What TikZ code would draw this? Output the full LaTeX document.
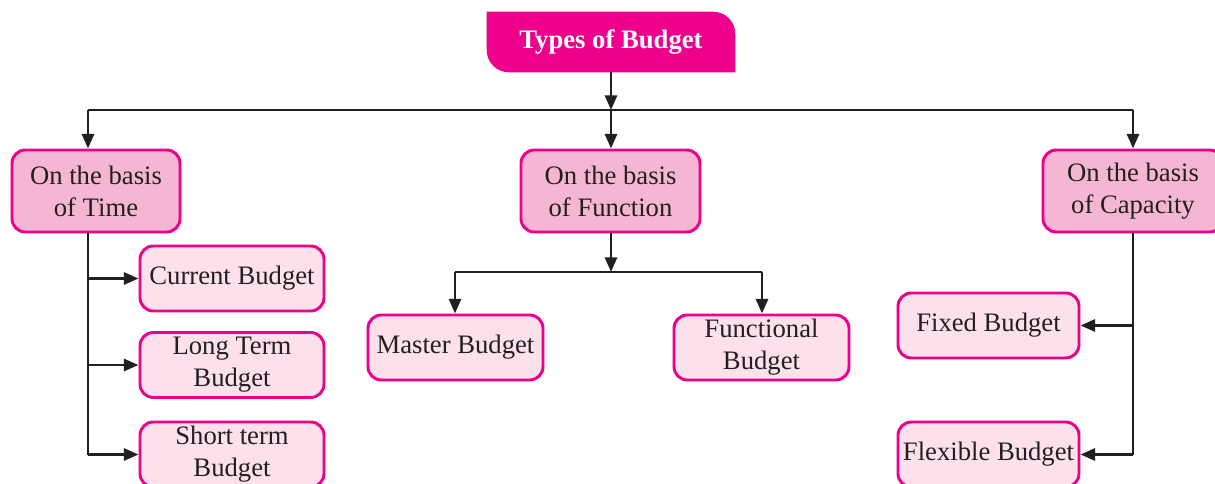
\documentclass[tikz,border=0pt]{standalone}
\usepackage{fontspec}
\setmainfont{Liberation Serif}
\usetikzlibrary{arrows.meta}
\definecolor{mag}{HTML}{EC008C}
\definecolor{midpink}{HTML}{F5B6D3}
\definecolor{lightpink}{HTML}{FCE0EC}
\definecolor{ink}{HTML}{231F20}
\tikzset{
  box/.style={draw=mag, line width=2.2pt, rounded corners=10pt, align=center,
    text=ink, font=\fontsize{20}{24}\selectfont, inner sep=0pt},
  mainbox/.style={box, fill=midpink, minimum height=61.5pt},
  subbox/.style={box, fill=lightpink, minimum height=48.75pt},
  titlenode/.style={text=white, font=\fontsize{20}{24}\selectfont\bfseries,
    minimum width=186pt, minimum height=45pt, inner sep=0pt},
  conn/.style={draw=ink, line width=2.2pt},
  arr/.style={conn, -{Triangle[length=11pt,width=9pt]}},
}
\begin{document}
\begin{tikzpicture}[x=0.75pt,y=0.75pt]
\useasboundingbox (0,0) rectangle (1215,483);
\clip (0,0) rectangle (1215,483);
% title
\node[titlenode] (title) at (611,441) {};
\fill[mag] (title.north west) -- ([xshift=-16.5pt]title.north east)
  arc[start angle=90,end angle=0,radius=22] -- (title.south east)
  -- ([xshift=16.5pt]title.south west) arc[start angle=270,end angle=180,radius=22] -- cycle;
\node[titlenode] at (title.center) {Types of Budget};
% level 1
\node[mainbox, minimum width=126pt] (time) at (96,292) {On the basis\\of Time};
\node[mainbox, minimum width=134.25pt] (func) at (610.5,292) {On the basis\\of Function};
\node[mainbox, minimum width=135pt] (cap) at (1133,292) {On the basis\\of Capacity};
% level 2
\node[subbox, minimum width=138pt] (cur) at (232,204.5) {Current Budget};
\node[subbox, minimum width=138pt] (long) at (232,118) {Long Term\\Budget};
\node[subbox, minimum width=138pt] (short) at (232,28.5) {Short term\\Budget};
\node[subbox, minimum width=131.25pt] (master) at (455.5,135.5) {Master Budget};
\node[subbox, minimum width=131.25pt] (fnl) at (761.5,135.5) {Functional\\Budget};
\node[subbox, minimum width=135.75pt] (fixed) at (988.5,157.5) {Fixed Budget};
\node[subbox, minimum width=135.75pt] (flex) at (988.5,28.5) {Flexible Budget};
% junction coordinates
\coordinate (top) at (611,373);
\coordinate (fj) at (611,211);
% title to level 1
\draw[arr] (title.south) -- (top);
\draw[conn] (88,373) -- (1133,373);
\draw[arr] (88,373) -- (time.north -| 88,0);
\draw[arr] (top) -- (func.north -| top);
\draw[arr] (1133,373) -- (cap.north);
% time branch
\draw[conn] (time.south -| 88,0) -- (88,28.5);
\draw[arr] (88,0 |- cur.west) -- (cur.west);
\draw[arr] (88,0 |- long.west) -- (long.west);
\draw[arr] (88,0 |- short.west) -- (short.west);
% function branch
\draw[arr] (func.south -| fj) -- (fj);
\draw[conn] (455,211) -- (762,211);
\draw[arr] (455,211) -- (master.north -| 455,0);
\draw[arr] (762,211) -- (fnl.north -| 762,0);
% capacity branch
\draw[conn] (cap.south) -- (1133,28.5);
\draw[arr] (1133,0 |- fixed.east) -- (fixed.east);
\draw[arr] (1133,0 |- flex.east) -- (flex.east);
\end{tikzpicture}
\end{document}
